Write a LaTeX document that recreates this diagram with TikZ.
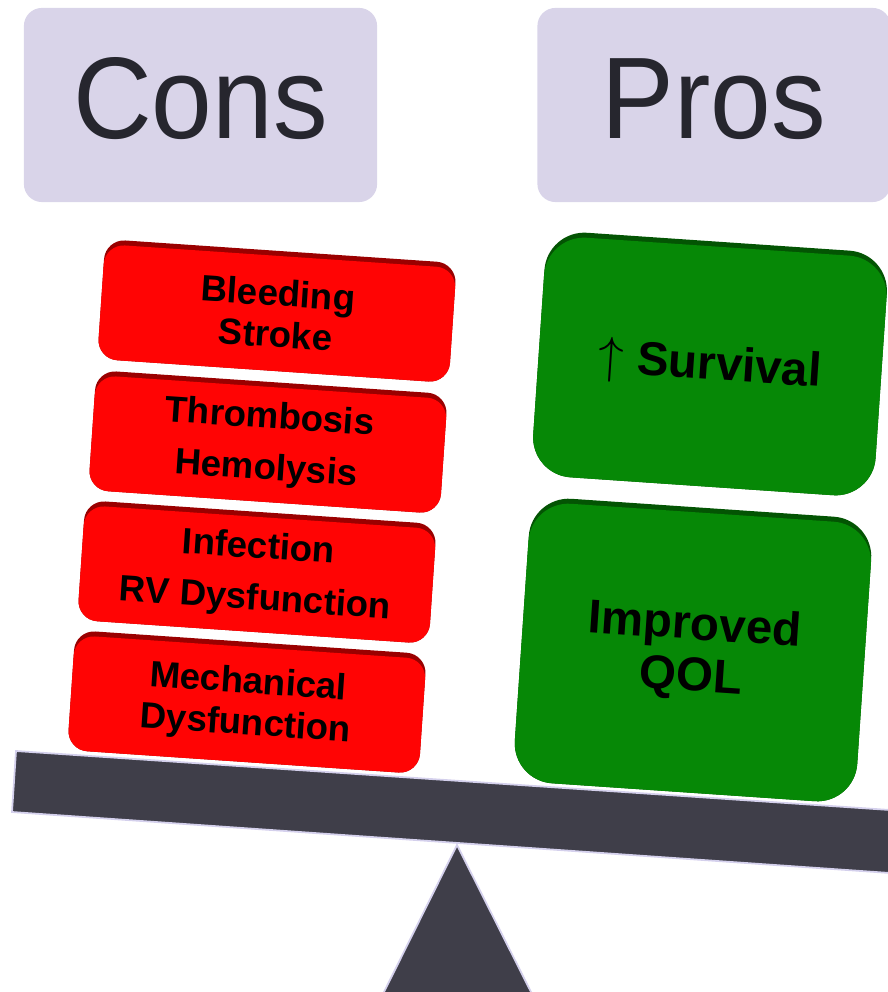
\documentclass[tikz,border=0pt]{standalone}
\usepackage{fontspec}
\setmainfont{Liberation Sans}
\usepackage{tikz}
\usetikzlibrary{positioning}
\definecolor{headfill}{HTML}{D9D4E9}
\definecolor{headtext}{HTML}{26262E}
\definecolor{conred}{HTML}{FF0404}
\definecolor{condark}{HTML}{9A0000}
\definecolor{progreen}{HTML}{068806}
\definecolor{prodark}{HTML}{035403}
\definecolor{beam}{HTML}{3F3E49}
\definecolor{beamedge}{HTML}{D4D0EC}
\tikzstyle{head} = [fill=headfill, rounded corners=0.18cm, minimum width=3.53cm,
    minimum height=1.94cm, text=headtext, text depth=0.13cm,
    font=\fontsize{33}{36}\selectfont]
\tikzstyle{con} = [fill=condark, rounded corners=0.2cm, minimum width=3.52cm,
    minimum height=1.2cm, inner sep=0pt, align=center,
    font=\bfseries\fontsize{10.4}{11.8}\selectfont]
\tikzstyle{pro} = [fill=prodark, rounded corners=0.4cm, minimum width=3.43cm,
    inner sep=0pt, align=center, font=\bfseries\fontsize{13.5}{14.6}\selectfont]

\begin{document}
\begin{tikzpicture}[x=0.01cm, y=-0.01cm]
  \useasboundingbox (0,0) rectangle (887,992);
  % headers
  \node [head] (cons) at (200.5,105) {\scalebox{0.94}[1]{Cons}};
  \node [head] (pros) at (714,105) {\scalebox{0.94}[1]{Pros}};
  % fulcrum and beam
  \fill [beam, draw=beamedge, line width=0.5pt] (457,845) -- (533,996) -- (382,996) -- cycle;
  \fill [beam, draw=beamedge, line width=0.5pt] (16,751) -- (890,810) -- (890,873) -- (12,812) -- cycle;
  % cons
  \begin{scope}[shift={(277,311)}, rotate=-3.9, transform shape]
    \node [con] (con1) {};
    \node [con, fill=conred, minimum height=1.15cm, yshift=-0.025cm] (bleed) {Bleeding\\Stroke};
  \end{scope}
  \begin{scope}[shift={(268,442)}, rotate=-3.9, transform shape]
    \node [con] (con2) {};
    \node [con, fill=conred, minimum height=1.15cm, yshift=-0.025cm] (thromb) {Thrombosis\\[0.1cm]Hemolysis};
  \end{scope}
  \begin{scope}[shift={(257,572)}, rotate=-3.9, transform shape]
    \node [con] (con3) {};
    \node [con, fill=conred, minimum height=1.15cm, yshift=-0.025cm] (infect) {Infection\\[0.1cm]RV Dysfunction};
  \end{scope}
  \begin{scope}[shift={(247,702)}, rotate=-3.9, transform shape]
    \node [con] (con4) {};
    \node [con, fill=conred, minimum height=1.15cm, yshift=-0.025cm] (mech) {Mechanical\\Dysfunction};
  \end{scope}
  % pros
  \begin{scope}[shift={(710,364)}, rotate=-3.9, transform shape]
    \node [pro, minimum height=2.45cm] (pro1) {};
    \node [pro, fill=progreen, minimum height=2.4cm, yshift=-0.025cm] (surv) {$\uparrow$ Survival};
  \end{scope}
  \begin{scope}[shift={(693,650)}, rotate=-3.9, transform shape]
    \node [pro, minimum height=2.85cm] (pro2) {};
    \node [pro, fill=progreen, minimum height=2.8cm, yshift=-0.025cm] (qol) {Improved\\QOL};
  \end{scope}
\end{tikzpicture}
\end{document}
